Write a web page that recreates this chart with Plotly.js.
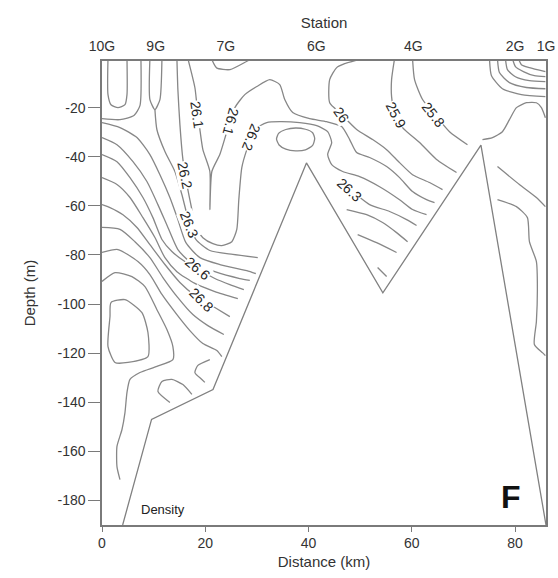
<!DOCTYPE html>
<html><head><meta charset="utf-8">
<script src="https://cdn.plot.ly/plotly-3.0.1.min.js"></script>
<style>html,body{margin:0;padding:0;background:#fff}#chart{width:558px;height:578px}</style>
</head><body><div id="chart"></div><script>
// Stations along the section (km)
const stationNames = ['10G','9G','7G','6G','4G','2G','1G'];
const stationKm = [0, 10.4, 24.0, 41.5, 60.3, 80.0, 86.0];

// Axis ticks
const distTicks = [0, 20, 40, 60, 80];
const depthTicks = [-180, -160, -140, -120, -100, -80, -60, -40, -20];
const depthTickText = ['-180','-160','-140','-120','-100','-80','-60','-40','-20'];

// Bottom topography (km, m)
const floorKm = [4, 9.6, 21.5, 39.6, 54.4, 73.4, 86];
const floorDepth = [-190, -147, -134.8, -42.5, -95.4, -35.3, -190];

// Density contour lines (sigma-t) traced from the section: km / depth (m)
const uInnerX = [1.16,1.16,1.74,3.09,4.45,4.84,4.84];
const uInnerY = [0,-14.7,-18.8,-20.0,-18.8,-14.7,0];
const uOuterX = [0,3.48,6.19,7.35,7.54];
const uOuterY = [-24.5,-24.9,-23.2,-19.2,0];
const u9gX = [9.28,9.28,10.25,11.22,11.61];
const u9gY = [0,-16.7,-20.8,-16.7,0];
const topBumpX = [21.2,22.2,24.8,28.0,29.0];
const topBumpY = [0,-3.8,-4.5,-1.2,0];

const c261X = [16.63,17.99,18.38,18.96,19.54,20.89,20.89,21.28,22.82,24.18,25.73,27.66,29.98,32.50,34.43,35.40,36.94,40.23,43.52,46.42,47.97,49.32,51.84,55.13,57.64,60.15,62.86,64.41];
const c261Y = [0,-11.8,-18.8,-28.9,-37.1,-46.0,-61.5,-46.0,-39.1,-29.8,-20.0,-14.7,-11.4,-8.6,-10.6,-16.7,-22.0,-24.5,-25.7,-27.7,-33.0,-38.3,-40.3,-44.0,-48.5,-54.2,-57.5,-58.7];
const c262X = [14.51,14.70,15.09,15.67,16.44,17.41,18.18,19.54,21.47,23.21,25.15,26.11,26.50,27.08,28.05,29.59,31.91,34.43,38.30,41.59,43.71,44.49,43.71,44.49,46.62,49.90,53.77,57.64,60.15,62.86];
const c262Y = [0,-12.7,-26.9,-41.1,-51.3,-61.5,-68.8,-73.0,-75.4,-76.2,-74.6,-69.6,-57.5,-44.4,-37.1,-28.9,-26.1,-25.7,-26.1,-27.3,-29.8,-34.2,-39.1,-43.2,-46.0,-48.1,-52.2,-57.5,-61.5,-63.6];
const c263WestX = [10.25,10.64,12.19,14.12,15.47,16.63,18.18,20.89,25.34,30.17];
const c263WestY = [-20.8,-29.0,-37.9,-46.0,-55.4,-64.8,-73.7,-78.2,-79.8,-81.1];
const c264WestX = [0,3.48,6.77,9.28,11.22,13.15,14.70,16.25,18.96,22.82,28.05,29.79];
const c264WestY = [-26.1,-28.1,-32.2,-39.1,-47.3,-56.6,-65.6,-75.0,-81.1,-83.9,-86.4,-87.6];
const c265WestX = [0,2.90,6.00,8.70,10.83,12.77,14.70,17.02,21.86,26.69,28.63];
const c265WestY = [-32.2,-35.1,-42.0,-50.1,-59.5,-68.8,-77.8,-82.7,-86.8,-89.6,-90.4];
const c266WestX = [0,2.90,5.42,7.93,9.86,11.61,13.54,16.05,18.38,21.86,24.76,27.47];
const c266WestY = [-39.1,-42.0,-48.5,-56.6,-64.8,-73.7,-78.6,-82.7,-85.5,-89.6,-92.1,-94.1];
const c267WestX = [0,2.90,5.42,7.93,10.25,12.19,14.51,17.99,21.86,26.31];
const c267WestY = [-48.5,-51.3,-56.6,-64.8,-72.9,-81.1,-86.8,-91.6,-94.9,-97.8];
const c268WestX = [0,1.55,4.06,6.77,9.28,12.19,15.09,17.99,19.34,21.86,24.76];
const c268WestY = [-59.5,-60.7,-63.6,-68.8,-75.8,-83.9,-91.2,-96.5,-98.2,-101.4,-105.1];
const c269WestX = [0,3.48,6.38,9.28,11.80,14.70,17.60,20.50,23.60];
const c269WestY = [-68.8,-69.6,-74.6,-81.1,-89.2,-97.4,-104.3,-108.8,-112.4];
const c270WestX = [0,3.09,6.96,9.28,11.61,14.51,17.02,19.54,22.24,23.21];
const c270WestY = [-79.0,-77.8,-82.7,-88.0,-96.1,-104.3,-110.8,-116.1,-118.9,-121.4];
const deepWrapX = [0,2.51,5.80,8.32,10.64,12.57,13.73,13.73,10.64,7.35,5.42,4.84,4.45,3.87,2.90,2.90,3.48];
const deepWrapY = [-90.8,-87.2,-88.8,-92.9,-102.3,-110.4,-117.3,-122.6,-125.4,-127.9,-130.7,-136.0,-144.2,-151.1,-158.0,-166.2,-171.5];
const deepLoopX = [1.74,4.45,7.74,8.90,8.90,5.03,2.51,1.16,1.55,1.74];
const deepLoopY = [-99.4,-98.2,-103.5,-111.6,-121.4,-123.8,-123.8,-117.3,-105.1,-99.4];
const hookX = [20.89,18.57,17.99,19.34,19.92];
const hookY = [-122.6,-125.0,-127.9,-130.7,-131.9];
const archX = [13.15,10.83,11.61,13.54,15.67,17.41];
const archY = [-140.1,-135.6,-131.5,-130.7,-132.8,-136.8];

const ovalX = [41.2,40.8,39.4,37.5,35.6,34.2,33.8,34.3,35.6,37.5,39.4,40.8,41.2];
const ovalY = [-32.6,-30.2,-28.8,-28.3,-28.9,-30.5,-32.8,-35.2,-36.9,-37.6,-37.2,-35.4,-32.6];
const c260X = [50.5,47.00,45.45,44.10,44.10,46.03,49.32,52.42,55.13,57.64,60.15,63.44,65.96];
const c260Y = [0,-2.1,-3.7,-8.6,-18.0,-22.0,-28.9,-33.0,-37.1,-42.4,-47.3,-50.5,-53.4];
const c259X = [56.67,56.09,56.09,56.67,58.22,61.51,64.80,68.67];
const c259Y = [0,-8.6,-15.5,-22.0,-28.1,-34.2,-41.1,-46.4];
const c258X = [60.15,60.54,62.09,64.80,67.31,70.79];
const c258Y = [0,-8.6,-16.7,-23.7,-29.8,-35.1];
const c263EastX = [45.65,47.97,51.84,55.71,59.00,60.93];
const c263EastY = [-51.3,-53.4,-59.5,-62.3,-65.6,-68.0];
const c264EastX = [47.39,51.26,54.35,57.06,59.19];
const c264EastY = [-61.5,-63.6,-66.8,-70.9,-74.6];
const c265EastX = [49.52,53.19,57.06];
const c265EastY = [-71.7,-75.0,-79.0];
const c266EastX = [53.38,55.13];
const c266EastY = [-85.1,-88.8];

const arc1X = [75.05,75.44,77.56,81.24,85.88], arc1Y = [0,-7.0,-12.3,-14.7,-15.5];
const arc2X = [76.60,76.98,78.92,82.21,85.88], arc2Y = [0,-5.7,-9.8,-11.8,-12.3];
const arc3X = [78.14,78.53,80.08,82.79,85.88], arc3Y = [0,-4.5,-7.4,-9.0,-9.4];
const arc4X = [79.50,80.08,81.62,83.75,85.88], arc4Y = [0,-3.3,-5.3,-7.0,-7.4];
const arc5X = [80.66,81.24,82.79,85.88], arc5Y = [0,-2.5,-3.7,-5.3];
const east1X = [73.69,75.63,77.56,78.92,80.27,82.21,84.14,85.11,85.88];
const east1Y = [-33.0,-32.2,-29.8,-24.9,-20.0,-18.0,-18.0,-20.0,-24.1];
const east2X = [76.60,80.85,84.14,85.88];
const east2Y = [-44.0,-51.3,-56.6,-60.3];
const east3X = [76.60,80.27,82.40,82.79,84.14,84.33,84.14,83.75,85.30,85.88];
const east3Y = [-57.5,-60.3,-64.8,-74.6,-82.7,-93.3,-107.1,-116.5,-119.8,-121.0];

const contourSets = [
  [uInnerX,uInnerY],[uOuterX,uOuterY],[u9gX,u9gY],[topBumpX,topBumpY],
  [c261X,c261Y],[c262X,c262Y],[c263WestX,c263WestY],[c264WestX,c264WestY],
  [c265WestX,c265WestY],[c266WestX,c266WestY],[c267WestX,c267WestY],
  [c268WestX,c268WestY],[c269WestX,c269WestY],[c270WestX,c270WestY],
  [deepWrapX,deepWrapY],[deepLoopX,deepLoopY],[hookX,hookY],[archX,archY],
  [ovalX,ovalY],[c260X,c260Y],[c259X,c259Y],[c258X,c258Y],
  [c263EastX,c263EastY],[c264EastX,c264EastY],[c265EastX,c265EastY],[c266EastX,c266EastY],
  [arc1X,arc1Y],[arc2X,arc2Y],[arc3X,arc3Y],[arc4X,arc4Y],[arc5X,arc5Y],
  [east1X,east1Y],[east2X,east2Y],[east3X,east3Y]
];

const LINE = '#878787';
const FONT = 'Liberation Sans, Arial, Helvetica, sans-serif';
const traces = contourSets.map(([x, y]) => ({
  type: 'scatter', mode: 'lines', x: x, y: y,
  line: {color: LINE, width: 1.3, shape: 'spline', smoothing: 0.6},
  hoverinfo: 'skip', showlegend: false
}));

traces.push({
  type: 'scatter', mode: 'lines', x: floorKm, y: floorDepth,
  fill: 'toself', fillcolor: '#ffffff',
  line: {color: '#808080', width: 1.3},
  hoverinfo: 'skip', showlegend: false
});

// invisible anchor trace for the station axis
traces.push({
  type: 'scatter', mode: 'markers', x: stationKm, y: stationKm.map(() => -100),
  xaxis: 'x2', marker: {opacity: 0, size: 1}, hoverinfo: 'skip', showlegend: false
});

function lab(text, x, y, ang) {
  return {text: text, x: x, y: y, xref: 'x', yref: 'y', showarrow: false,
    textangle: ang, bgcolor: '#ffffff', borderpad: 0,
    font: {family: FONT, size: 14, color: '#262626'}};
}

const annotations = [
  lab('26.1', 18.5, -22.8, 82),
  lab('26.1', 24.9, -25.6, 105),
  lab('26.2', 29.0, -32.2, 112),
  lab('26.2', 16.1, -47.3, 78),
  lab('26.3', 17.0, -67.6, 68),
  lab('26.6', 18.4, -85.5, 40),
  lab('26.8', 19.3, -98.2, 45),
  lab('26', 46.4, -22.8, 55),
  lab('25.9', 57.0, -22.8, 62),
  lab('25.8', 64.3, -22.8, 52),
  lab('26.3', 48.0, -53.4, 42),
  {text: 'Density', x: 11.8, y: -183.7, xref: 'x', yref: 'y', showarrow: false,
   font: {family: FONT, size: 13, color: '#222'}},
  {text: '<b>F</b>', x: 79.2, y: -178.6, xref: 'x', yref: 'y', showarrow: false,
   font: {family: FONT, size: 32, color: '#111'}}
];

const axisCommon = {
  showgrid: false, zeroline: false, linecolor: '#7a7a7a', linewidth: 1.6,
  tickfont: {family: FONT, size: 14, color: '#333'}, tickcolor: '#7a7a7a'
};

const layout = {
  width: 558, height: 578, autosize: false,
  margin: {l: 102, r: 12, t: 61, b: 53},
  paper_bgcolor: '#ffffff', plot_bgcolor: '#ffffff',
  font: {family: FONT, color: '#333'},
  showlegend: false,
  xaxis: Object.assign({}, axisCommon, {
    range: [0, 86], tickmode: 'array', tickvals: distTicks, ticks: 'outside', ticklen: 5,
    mirror: true, showline: true,
    title: {text: 'Distance (km)', font: {family: FONT, size: 15, color: '#333'}, standoff: 6}
  }),
  xaxis2: {
    overlaying: 'x', side: 'top', range: [0, 86], anchor: 'y',
    tickmode: 'array', tickvals: stationKm, ticktext: stationNames,
    ticks: 'outside', ticklen: 3, tickcolor: 'rgba(0,0,0,0)',
    showgrid: false, zeroline: false, showline: false,
    tickfont: {family: FONT, size: 14, color: '#333'},
    title: {text: 'Station', font: {family: FONT, size: 15, color: '#333'}, standoff: 6}
  },
  yaxis: Object.assign({}, axisCommon, {
    range: [-190, -1], tickmode: 'array', tickvals: depthTicks, ticktext: depthTickText,
    ticks: 'outside', ticklen: 12,
    mirror: true, showline: true,
    title: {text: 'Depth (m)', font: {family: FONT, size: 15, color: '#333'}, standoff: 18}
  }),
  annotations: annotations
};

Plotly.newPlot('chart', traces, layout, {displayModeBar: false, staticPlot: true});
</script></body></html>
